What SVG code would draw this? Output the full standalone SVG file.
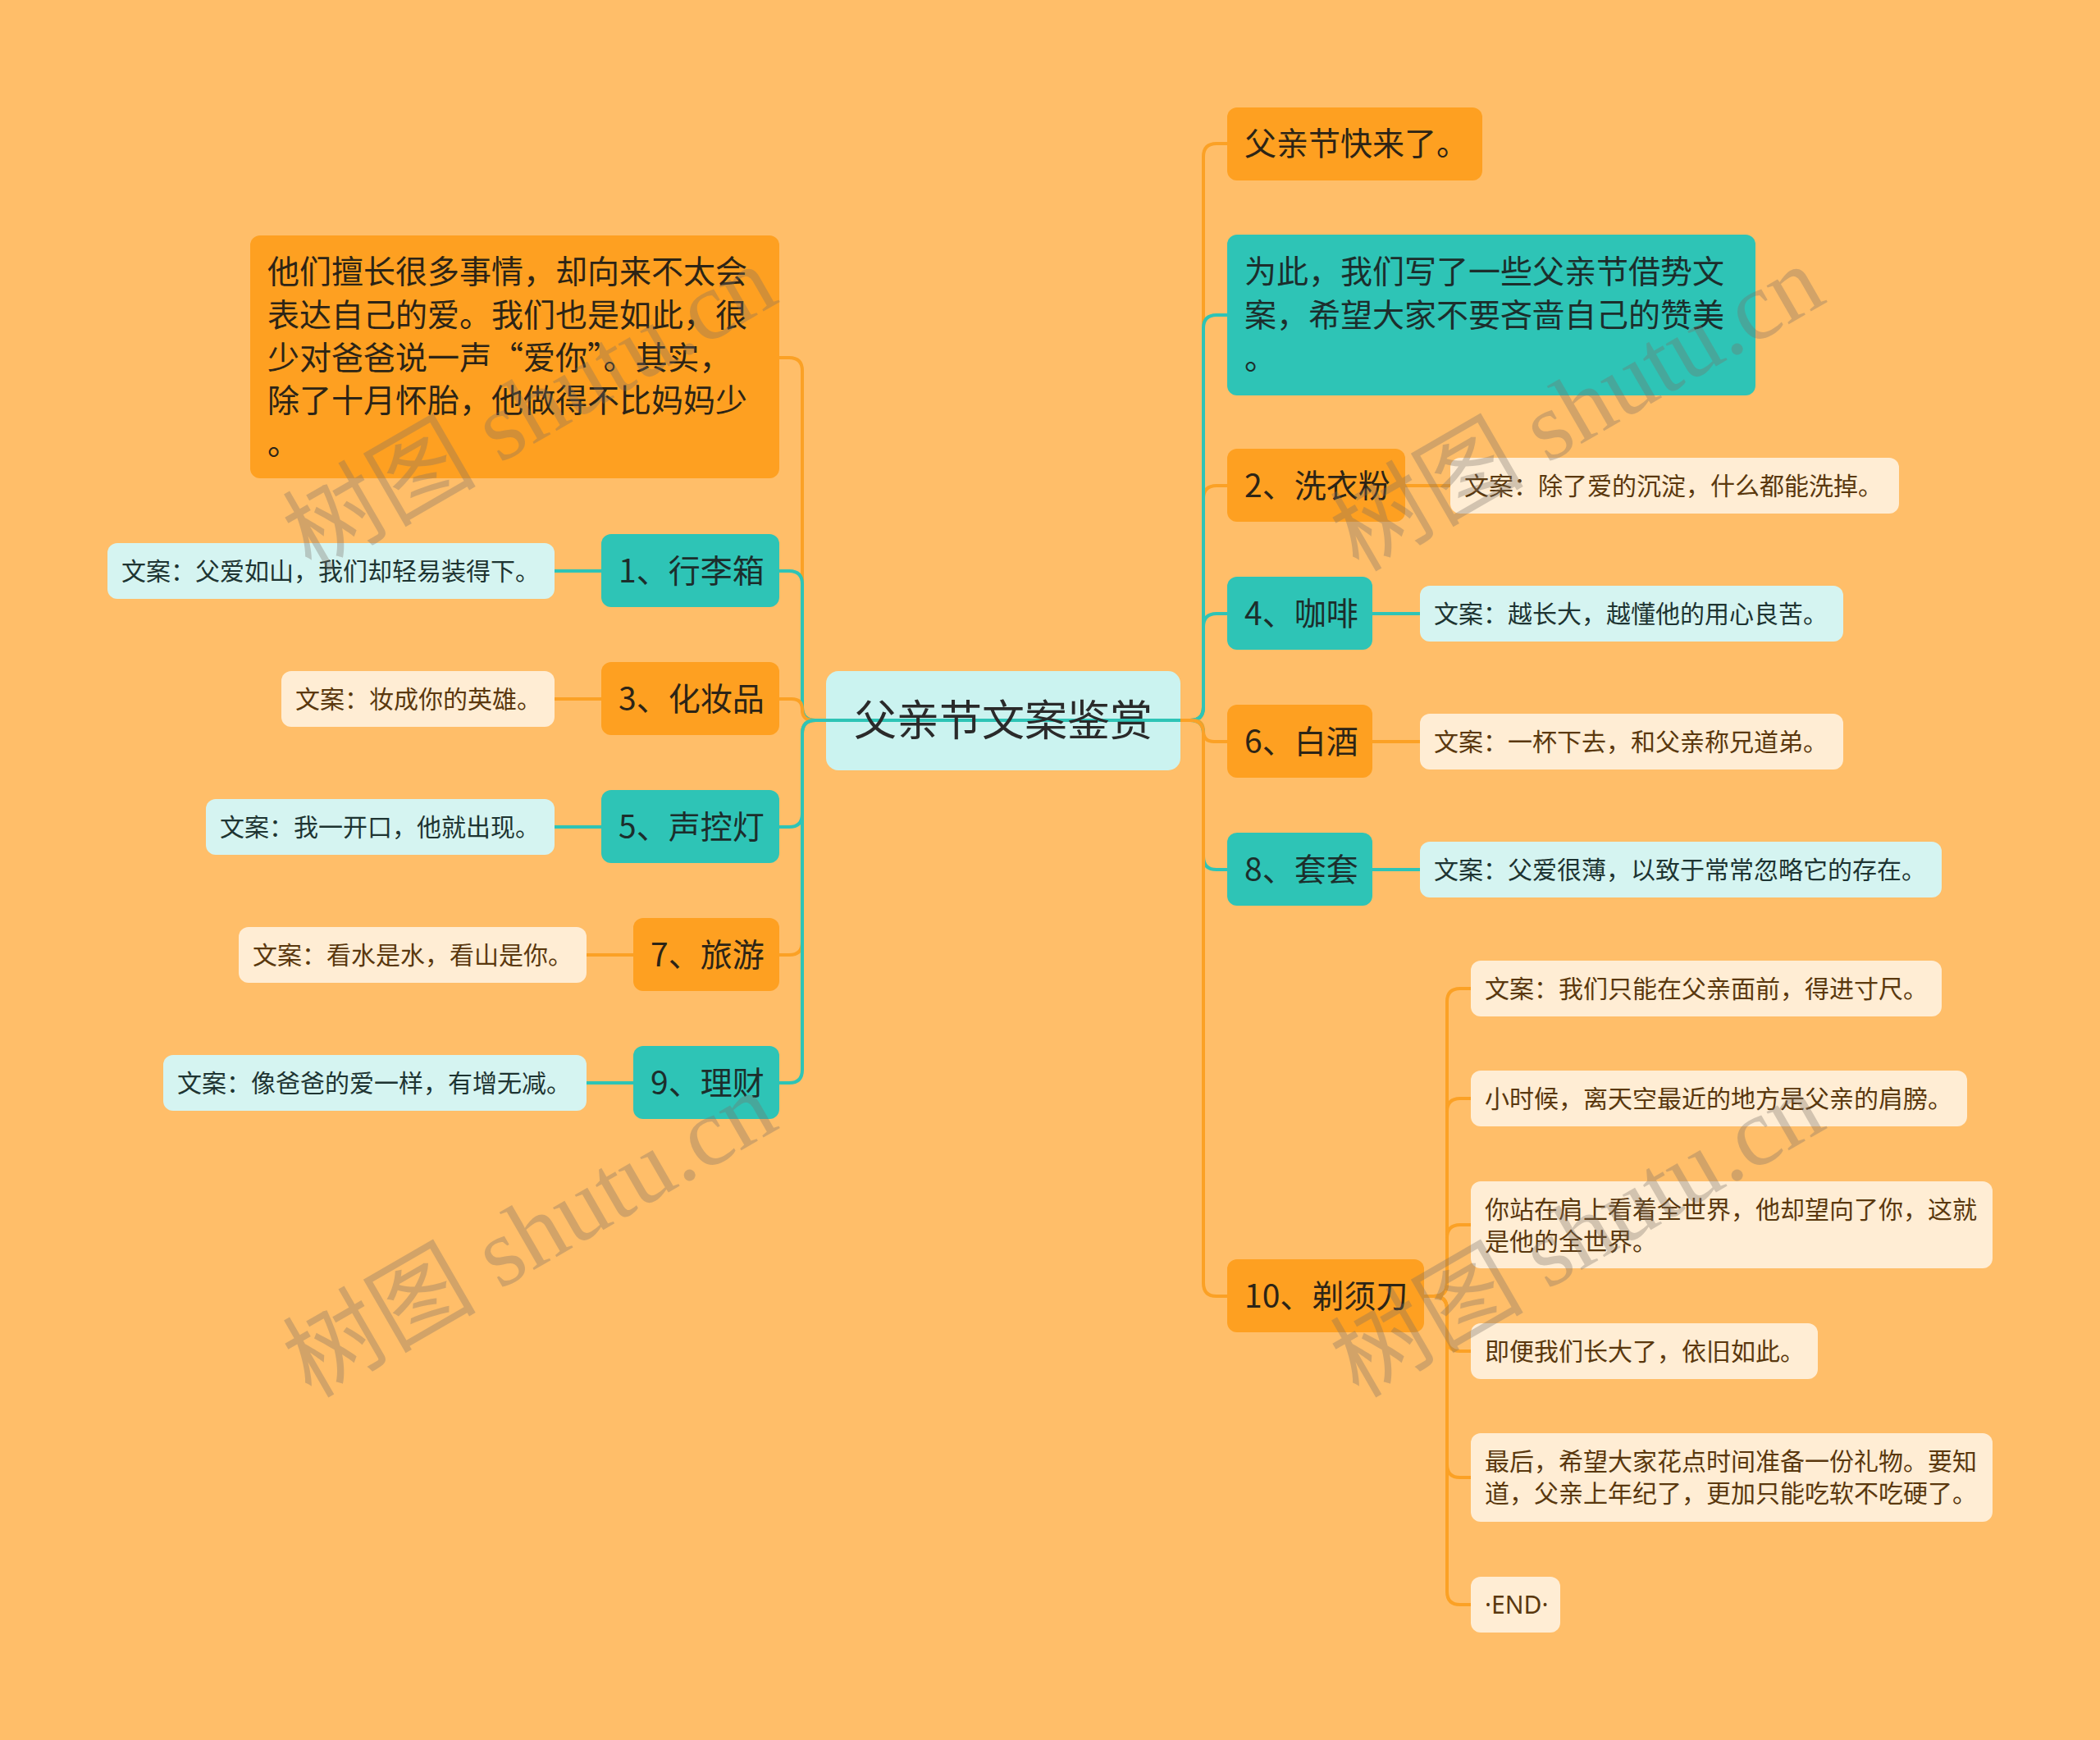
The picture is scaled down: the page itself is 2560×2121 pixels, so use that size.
<svg xmlns="http://www.w3.org/2000/svg" width="2560" height="2121" viewBox="0 0 2560 2121">
<style>
text { font-family: "Noto Sans CJK SC", "Noto Sans", sans-serif; }
.bg { fill: #FFBE69; }
.nO { fill: #FEA021; }
.nT { fill: #2EC4B6; }
.lC { fill: #D5F4F1; }
.lY { fill: #FFEDD4; }
.t0 { font-size: 52px; fill: #2A2A2A; }
.t1 { font-size: 39px; fill: #2C2416; }
.t1t { font-size: 39px; fill: #1C2E2C; }
.tY { font-size: 30px; fill: #5A380E; }
.tC { font-size: 30px; fill: #1E3432; }
.lat { font-family: "Noto Sans", "Noto Sans CJK SC", sans-serif; }
.cO { fill: none; stroke: #FBA125; stroke-width: 4; }
.cT { fill: none; stroke: #2EC4B6; stroke-width: 4; }
.wm { font-family: "Liberation Serif", "Noto Sans CJK SC", serif; font-size: 118px; fill: #7A6F66; opacity: 0.33; }
</style>
<rect class="bg" x="0" y="0" width="2560" height="2121"/>

<g id="root">
<rect x="1007" y="818" width="432" height="121" rx="15" fill="#CBF3F0"/>
</g>

<g id="connectors">
<!-- right side -->
<path class="cO" d="M1439 878 H1451 Q1467 878 1467 862 V191 Q1467 175 1483 175 H1496"/>
<path class="cO" d="M1439 878 H1451 Q1467 878 1467 862 V608 Q1467 592 1483 592 H1496"/>
<path class="cT" d="M1439 878 H1451 Q1467 878 1467 862 V764 Q1467 748 1483 748 H1496"/>
<path class="cT" d="M1439 878 H1451 Q1467 878 1467 862 V400 Q1467 384 1483 384 H1496"/>
<path class="cO" d="M1439 878 H1454 Q1467 878 1467 891 Q1467 904 1480 904 H1496"/>
<path class="cT" d="M1439 878 H1451 Q1467 878 1467 894 V1044 Q1467 1060 1483 1060 H1496"/>
<path class="cO" d="M1439 878 H1451 Q1467 878 1467 894 V1564 Q1467 1580 1483 1580 H1496"/>
<!-- left side -->
<path class="cO" d="M1439 878 H994 Q978 878 978 862 V452 Q978 436 962 436 H950"/>
<path class="cT" d="M1439 878 H994 Q978 878 978 862 V712 Q978 696 962 696 H950"/>
<path class="cO" d="M1439 878 H991 Q978 878 978 865 Q978 852 965 852 H950"/>
<path class="cT" d="M1439 878 H994 Q978 878 978 894 V992 Q978 1008 962 1008 H950"/>
<path class="cO" d="M1439 878 H994 Q978 878 978 894 V1148 Q978 1164 962 1164 H950"/>
<path class="cT" d="M1439 878 H994 Q978 878 978 894 V1304 Q978 1320 962 1320 H950"/>
<!-- leaf links left -->
<path class="cT" d="M733 696 H676"/>
<path class="cO" d="M733 852 H676"/>
<path class="cT" d="M733 1008 H676"/>
<path class="cO" d="M772 1164 H715"/>
<path class="cT" d="M772 1320 H715"/>
<!-- leaf links right -->
<path class="cO" d="M1713 592 H1768"/>
<path class="cT" d="M1673 748 H1731"/>
<path class="cO" d="M1673 904 H1731"/>
<path class="cT" d="M1673 1060 H1731"/>
<!-- 10 subtree -->
<path class="cO" d="M1736 1580 H1748 Q1764 1580 1764 1564 V1221 Q1764 1205 1780 1205 H1793"/>
<path class="cO" d="M1736 1580 H1748 Q1764 1580 1764 1564 V1355 Q1764 1339 1780 1339 H1793"/>
<path class="cO" d="M1736 1580 H1748 Q1764 1580 1764 1564 V1509 Q1764 1493 1780 1493 H1793"/>
<path class="cO" d="M1736 1580 H1748 Q1764 1580 1764 1596 V1631 Q1764 1647 1780 1647 H1793"/>
<path class="cO" d="M1736 1580 H1748 Q1764 1580 1764 1596 V1785 Q1764 1801 1780 1801 H1793"/>
<path class="cO" d="M1736 1580 H1748 Q1764 1580 1764 1596 V1940 Q1764 1956 1780 1956 H1793"/>
</g>

<g id="root-label"><text class="t0" x="1223" y="897" text-anchor="middle">父亲节文案鉴赏</text></g>

<!-- left nodes -->
<g id="n-intro">
<rect class="nO" x="305" y="287" width="645" height="296" rx="12"/>
<text class="t1" x="326" y="345">他们擅长很多事情，却向来不太会</text>
<text class="t1" x="326" y="398">表达自己的爱。我们也是如此，很</text>
<text class="t1" x="326" y="450">少对爸爸说一声“爱你”。其实，</text>
<text class="t1" x="326" y="502">除了十月怀胎，他做得不比妈妈少</text>
<text class="t1" x="326" y="554">。</text>
</g>
<g id="n1"><rect class="nT" x="733" y="651" width="217" height="89" rx="12"/><text class="t1t" x="754" y="710">1、行李箱</text></g>
<g id="n1-leaf"><rect class="lC" x="131" y="662" width="545" height="68" rx="12"/><text class="tC" x="148" y="707">文案：父爱如山，我们却轻易装得下。</text></g>
<g id="n3"><rect class="nO" x="733" y="807" width="217" height="89" rx="12"/><text class="t1" x="754" y="866">3、化妆品</text></g>
<g id="n3-leaf"><rect class="lY" x="343" y="818" width="333" height="68" rx="12"/><text class="tY" x="360" y="863">文案：妆成你的英雄。</text></g>
<g id="n5"><rect class="nT" x="733" y="963" width="217" height="89" rx="12"/><text class="t1t" x="754" y="1022">5、声控灯</text></g>
<g id="n5-leaf"><rect class="lC" x="251" y="974" width="425" height="68" rx="12"/><text class="tC" x="268" y="1019">文案：我一开口，他就出现。</text></g>
<g id="n7"><rect class="nO" x="772" y="1119" width="178" height="89" rx="12"/><text class="t1" x="793" y="1178">7、旅游</text></g>
<g id="n7-leaf"><rect class="lY" x="291" y="1130" width="424" height="68" rx="12"/><text class="tY" x="308" y="1175">文案：看水是水，看山是你。</text></g>
<g id="n9"><rect class="nT" x="772" y="1275" width="178" height="89" rx="12"/><text class="t1t" x="793" y="1334">9、理财</text></g>
<g id="n9-leaf"><rect class="lC" x="199" y="1286" width="516" height="68" rx="12"/><text class="tC" x="216" y="1331">文案：像爸爸的爱一样，有增无减。</text></g>

<!-- right nodes -->
<g id="n-soon"><rect class="nO" x="1496" y="131" width="311" height="89" rx="12"/><text class="t1" x="1517" y="189">父亲节快来了。</text></g>
<g id="n-why">
<rect class="nT" x="1496" y="286" width="644" height="196" rx="12"/>
<text class="t1t" x="1517" y="345">为此，我们写了一些父亲节借势文</text>
<text class="t1t" x="1517" y="398">案，希望大家不要吝啬自己的赞美</text>
<text class="t1t" x="1517" y="450">。</text>
</g>
<g id="n2"><rect class="nO" x="1496" y="547" width="217" height="89" rx="12"/><text class="t1" x="1517" y="606">2、洗衣粉</text></g>
<g id="n2-leaf"><rect class="lY" x="1768" y="558" width="547" height="68" rx="12"/><text class="tY" x="1785" y="603">文案：除了爱的沉淀，什么都能洗掉。</text></g>
<g id="n4"><rect class="nT" x="1496" y="703" width="177" height="89" rx="12"/><text class="t1t" x="1517" y="762">4、咖啡</text></g>
<g id="n4-leaf"><rect class="lC" x="1731" y="714" width="516" height="68" rx="12"/><text class="tC" x="1748" y="759">文案：越长大，越懂他的用心良苦。</text></g>
<g id="n6"><rect class="nO" x="1496" y="859" width="177" height="89" rx="12"/><text class="t1" x="1517" y="918">6、白酒</text></g>
<g id="n6-leaf"><rect class="lY" x="1731" y="870" width="516" height="68" rx="12"/><text class="tY" x="1748" y="915">文案：一杯下去，和父亲称兄道弟。</text></g>
<g id="n8"><rect class="nT" x="1496" y="1015" width="177" height="89" rx="12"/><text class="t1t" x="1517" y="1074">8、套套</text></g>
<g id="n8-leaf"><rect class="lC" x="1731" y="1026" width="636" height="68" rx="12"/><text class="tC" x="1748" y="1071">文案：父爱很薄，以致于常常忽略它的存在。</text></g>
<g id="n10"><rect class="nO" x="1496" y="1535" width="240" height="89" rx="12"/><text class="t1" x="1517" y="1594">10、剃须刀</text></g>
<g id="n10-a"><rect class="lY" x="1793" y="1171" width="574" height="68" rx="12"/><text class="tY" x="1810" y="1216">文案：我们只能在父亲面前，得进寸尺。</text></g>
<g id="n10-b"><rect class="lY" x="1793" y="1305" width="605" height="68" rx="12"/><text class="tY" x="1810" y="1350">小时候，离天空最近的地方是父亲的肩膀。</text></g>
<g id="n10-c"><rect class="lY" x="1793" y="1440" width="636" height="106" rx="12"/><text class="tY" x="1810" y="1485">你站在肩上看着全世界，他却望向了你，这就</text><text class="tY" x="1810" y="1524">是他的全世界。</text></g>
<g id="n10-d"><rect class="lY" x="1793" y="1613" width="423" height="68" rx="12"/><text class="tY" x="1810" y="1658">即便我们长大了，依旧如此。</text></g>
<g id="n10-e"><rect class="lY" x="1793" y="1747" width="636" height="108" rx="12"/><text class="tY" x="1810" y="1792">最后，希望大家花点时间准备一份礼物。要知</text><text class="tY" x="1810" y="1831">道，父亲上年纪了，更加只能吃软不吃硬了。</text></g>
<g id="n10-f"><rect class="lY" x="1793" y="1922" width="109" height="68" rx="12"/><text class="tY lat" x="1810" y="1967">·END·</text></g>

<g id="watermark">
<text class="wm" transform="translate(379 698) rotate(-30)">树图 shutu.cn</text>
<text class="wm" transform="translate(379 1705) rotate(-30)">树图 shutu.cn</text>
<text class="wm" transform="translate(1656 698) rotate(-30)">树图 shutu.cn</text>
<text class="wm" transform="translate(1656 1705) rotate(-30)">树图 shutu.cn</text>
</g>
</svg>
